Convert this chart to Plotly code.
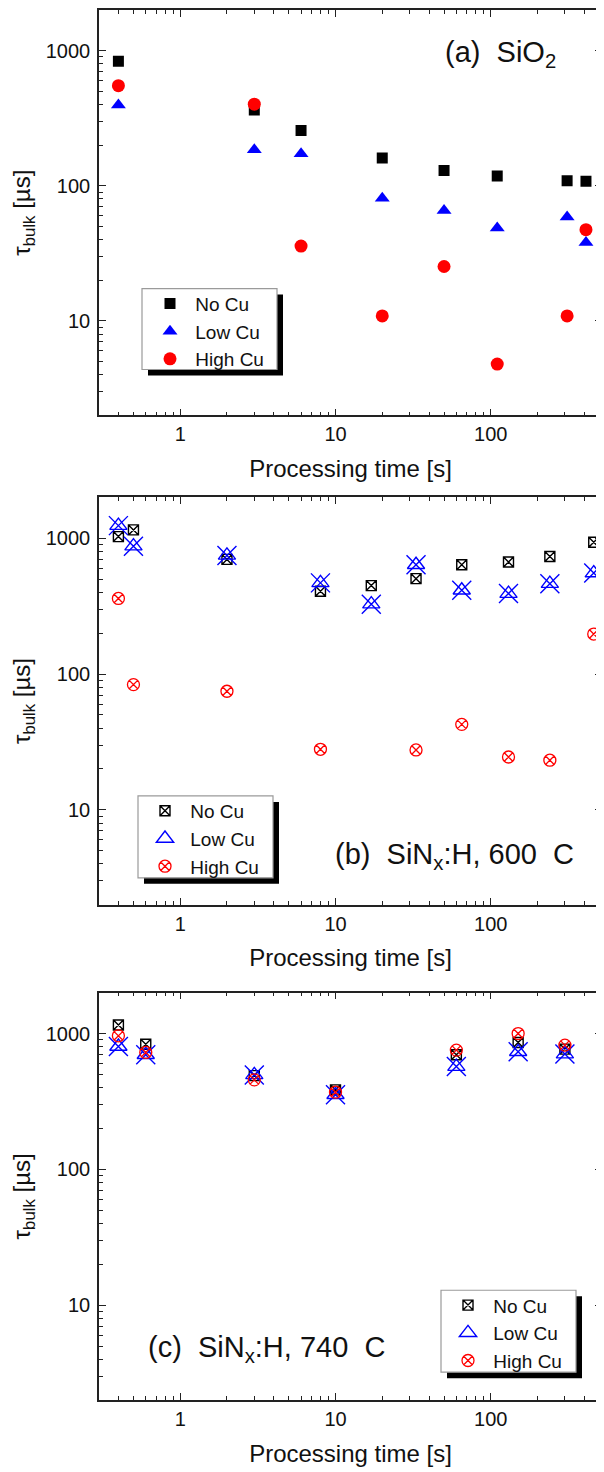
import plotly.graph_objects as go
import math

# ---------------- data ----------------
series_names = ["No Cu", "Low Cu", "High Cu"]

# panel (a) SiO2
time_a = [0.4, 3, 6, 20, 50, 110, 310, 410]
a_no_cu = [836, 364, 257, 161, 130, 118, 109, 108]
a_low_cu = [396, 185, 173, 81, 65.6, 48.7, 58.7, 38]
a_high_cu = [551, 402, 35.8, 10.9, 25.3, 4.8, 10.9, 47.4]

# panel (b) SiNx:H, 600 C
time_b = [0.4, 0.5, 2, 8, 17, 33, 65, 130, 240, 460]
b_no_cu = [1028, 1151, 698, 407, 448, 504, 638, 668, 734, 935]
b_low_cu = [1238, 874, 747, 469, 327, 638, 414, 391, 463, 554]
b_high_cu = [360, 83.6, 74.7, 27.9, None, 27.6, 42.6, 24.5, 23.2, 197]

# panel (c) SiNx:H, 740 C
time_c = [0.4, 0.6, 3, 10, 60, 150, 300]
c_no_cu = [1157, 835, 490, 385, 698, 859, 768]
c_low_cu = [803, 698, 496, 354, 571, 734, 706]
c_high_cu = [962, 726, 456, 370, 755, 1000, 822]

x_tickvals = [1, 10, 100]
x_ticktext = ["1", "10", "100"]
y_tickvals = [10, 100, 1000]
y_ticktext = ["10", "100", "1000"]

panel_labels = ["(a)\u00a0\u00a0SiO<sub>2</sub>",
                "(b)\u00a0\u00a0SiN<sub>x</sub>:H, 600\u00a0\u00a0C",
                "(c)\u00a0\u00a0SiN<sub>x</sub>:H, 740\u00a0\u00a0C"]
x_title = "Processing time [s]"
y_title = "\u03c4<sub>bulk</sub> [\u00b5s]"

# ---------------- layout geometry (page pixels) ----------------
OFF = 8                      # default page body margin
W, H = 604 - OFF, 1472 - OFF
PLOT_L, PLOT_R = 99, 602     # plot area in page pixels
ML = PLOT_L - OFF
PW = PLOT_R - PLOT_L
MR = W - ML - PW
FONT = "Liberation Sans, Arial, sans-serif"
BLACK = "#000000"
BLUE = "#0000ff"
RED = "#ff0000"
TXT = "#111111"

def px_x(p):
    return (p - PLOT_L) / PW

def px_y(p):
    return min(1.0, max(0.0, 1 - (p - OFF) / H))

panels = [(8, 414), (496, 904), (992, 1400)]

fig = go.Figure()

LEG_PREFIX = "\u00a0"

# panel a: filled markers
fig.add_trace(go.Scatter(x=time_a, y=a_no_cu, mode="markers", name=LEG_PREFIX + series_names[0],
                         marker=dict(symbol="square", size=11, color=BLACK),
                         xaxis="x", yaxis="y", legend="legend"))
fig.add_trace(go.Scatter(x=time_a, y=a_low_cu, mode="markers", name=LEG_PREFIX + series_names[1],
                         marker=dict(symbol="triangle-up", size=13, color=BLUE),
                         xaxis="x", yaxis="y", legend="legend"))
fig.add_trace(go.Scatter(x=time_a, y=a_high_cu, mode="markers", name=LEG_PREFIX + series_names[2],
                         marker=dict(symbol="circle", size=13, color=RED),
                         xaxis="x", yaxis="y", legend="legend"))

def add_open_panel(xs, no, low, high, xa, ya, lg):
    fig.add_trace(go.Scatter(x=xs, y=no, mode="markers", name=LEG_PREFIX + series_names[0],
                             marker=dict(symbol="square-x-open", size=10, color=BLACK, line=dict(width=1.4)),
                             xaxis=xa, yaxis=ya, legend=lg))
    fig.add_trace(go.Scatter(x=xs, y=low, mode="markers", name=LEG_PREFIX + series_names[1],
                             marker=dict(symbol="triangle-up-open", size=15, color=BLUE, line=dict(width=1.4)),
                             xaxis=xa, yaxis=ya, legend=lg))
    fig.add_trace(go.Scatter(x=xs, y=low, mode="markers", name=series_names[1], showlegend=False,
                             marker=dict(symbol="x-thin-open", size=19, color=BLUE, line=dict(width=1.4)),
                             xaxis=xa, yaxis=ya, legend=lg, hoverinfo="skip"))
    fig.add_trace(go.Scatter(x=xs, y=high, mode="markers", name=LEG_PREFIX + series_names[2],
                             marker=dict(symbol="circle-x-open", size=12, color=RED, line=dict(width=1.3)),
                             xaxis=xa, yaxis=ya, legend=lg))

add_open_panel(time_b, b_no_cu, b_low_cu, b_high_cu, "x2", "y2", "legend2")
add_open_panel(time_c, c_no_cu, c_low_cu, c_high_cu, "x3", "y3", "legend3")

axis_line = "#222222"
xr = [math.log10(0.3), math.log10(520)]
yr = [math.log10(2), math.log10(2000)]

def xaxis_def(anchor):
    return dict(type="log", range=xr, tickvals=x_tickvals, ticktext=x_ticktext,
                ticks="inside", ticklen=7, tickwidth=1.3, tickcolor=axis_line,
                minor=dict(ticks="inside", ticklen=4, tickwidth=1.1, tickcolor=axis_line, dtick="D1"),
                showline=True, linecolor=axis_line, linewidth=1.6, mirror="ticks",
                showgrid=False, zeroline=False, anchor=anchor, domain=[0, 1],
                tickfont=dict(family=FONT, size=20, color=TXT),
                ticklabelstandoff=0,
                title=dict(text=x_title, font=dict(family=FONT, size=24, color=TXT), standoff=16))

def yaxis_def(anchor, dom):
    return dict(type="log", range=yr, tickvals=y_tickvals, ticktext=y_ticktext,
                ticks="inside", ticklen=7, tickwidth=1.3, tickcolor=axis_line,
                minor=dict(ticks="inside", ticklen=4, tickwidth=1.1, tickcolor=axis_line, dtick="D1"),
                showline=True, linecolor=axis_line, linewidth=1.6, mirror="ticks",
                showgrid=False, zeroline=False, anchor=anchor, domain=dom,
                tickfont=dict(family=FONT, size=20, color=TXT),
                ticklabelstandoff=3,
                title=dict(text=y_title, font=dict(family=FONT, size=24, color=TXT), standoff=10))

doms = [[px_y(b), px_y(t)] for (t, b) in panels]

# legend frames (box + shadow), page-pixel boxes
legend_boxes = [(142, 287, 277, 368), (138, 795, 273, 877), (441, 1290, 576, 1372)]
legend_rows = [302, 810, 1305]   # centre of first legend row
legend_sym_x = [169, 164, 467]
SH = 6
shapes = []
for (x0, y0, x1, y1) in legend_boxes:
    shapes.append(dict(type="rect", xref="paper", yref="paper", layer="above",
                       x0=px_x(x0 + SH), x1=px_x(x1 + SH), y0=px_y(y1 + SH), y1=px_y(y0 + SH),
                       fillcolor="#000000", line=dict(width=0)))
    shapes.append(dict(type="rect", xref="paper", yref="paper", layer="above",
                       x0=px_x(x0), x1=px_x(x1), y0=px_y(y1), y1=px_y(y0),
                       fillcolor="#ffffff", line=dict(width=1.2, color="#9a9a9a")))

def legend_def(i):
    return dict(x=px_x(legend_sym_x[i] - 19), y=px_y(legend_rows[i] - 19), xanchor="left", yanchor="top",
                xref="paper", yref="paper", bgcolor="rgba(0,0,0,0)", borderwidth=0,
                font=dict(family=FONT, size=19, color=TXT), tracegroupgap=0,
                itemsizing="trace")

annotations = [
    dict(text=panel_labels[0], xref="paper", yref="paper", x=px_x(443), y=px_y(52),
         xanchor="left", yanchor="middle", showarrow=False,
         font=dict(family=FONT, size=29, color=TXT)),
    dict(text=panel_labels[1], xref="paper", yref="paper", x=px_x(333), y=px_y(855),
         xanchor="left", yanchor="middle", showarrow=False,
         font=dict(family=FONT, size=29, color=TXT)),
    dict(text=panel_labels[2], xref="paper", yref="paper", x=px_x(146), y=px_y(1349),
         xanchor="left", yanchor="middle", showarrow=False,
         font=dict(family=FONT, size=29, color=TXT)),
]

fig.update_layout(
    width=W, height=H,
    margin=dict(l=ML, r=MR, t=0, b=0, pad=0),
    paper_bgcolor="white", plot_bgcolor="white",
    font=dict(family=FONT, color=TXT),
    xaxis=xaxis_def("y"), yaxis=yaxis_def("x", doms[0]),
    xaxis2=xaxis_def("y2"), yaxis2=yaxis_def("x2", doms[1]),
    xaxis3=xaxis_def("y3"), yaxis3=yaxis_def("x3", doms[2]),
    legend=legend_def(0),
    legend2=legend_def(1),
    legend3=legend_def(2),
    shapes=shapes, annotations=annotations,
    showlegend=True,
)

fig.write_html("out.html")
